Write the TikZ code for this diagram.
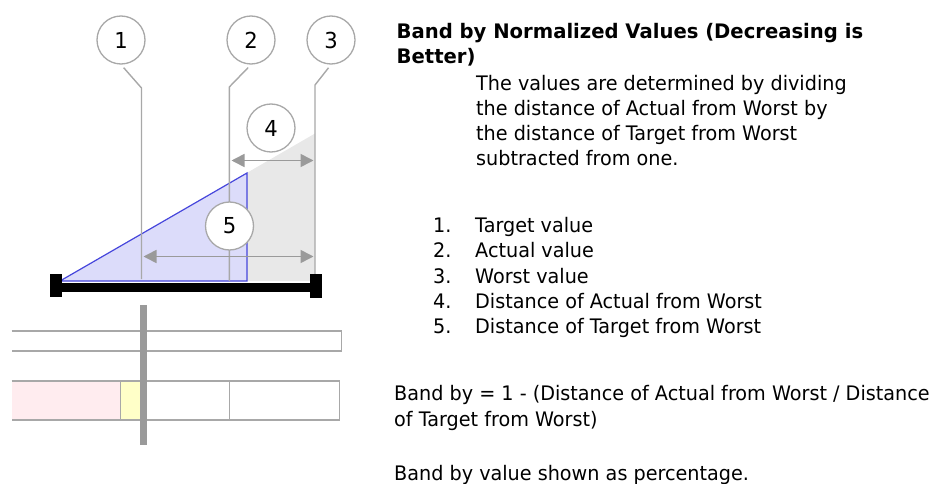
\documentclass[tikz,border=0pt]{standalone}
\usepackage{fontspec}
\setmainfont{DejaVu Sans}[FakeStretch=0.96, BoldFeatures={FakeStretch=0.98}]
\usetikzlibrary{arrows.meta}

\definecolor{linha}{HTML}{A8A8A8}
\definecolor{seta}{HTML}{9A9A9A}
\definecolor{sombra}{HTML}{E8E8E8}
\definecolor{azulclaro}{HTML}{DCDCFA}
\definecolor{azul}{HTML}{4646DC}
\definecolor{rosa}{HTML}{FFECEF}
\definecolor{amarelo}{HTML}{FFFFC8}

\begin{document}
\begin{tikzpicture}[x=1pt, y=-1pt,
    numero/.style={draw=linha, circle, fill=white, line width=1.3pt, minimum size=48pt, inner sep=0pt, font=\fontsize{22}{26}\selectfont},
    guia/.style={draw=linha, line width=1.4pt},
    cota/.style={draw=seta, line width=1.6pt, {Triangle[length=13pt,width=13pt]}-{Triangle[length=13pt,width=13pt]}},
    texto/.style={anchor=base west, inner sep=0pt, align=left}]
    \useasboundingbox (0,0) rectangle (950,484);

    % Regiões sombreadas
    \fill[sombra] (60,281) -- (315,133.5) -- (315,281) -- cycle;
    \filldraw[fill=azulclaro, draw=azul, line width=1.2pt] (60,281) -- (247,173) -- (247,281) -- cycle;

    % Nós para os números
    \node[numero] (n1) at (121,40) {1};
    \node[numero] (n2) at (251,40) {2};
    \node[numero] (n3) at (331,40) {3};
    \node[numero] (n4) at (271,128) {4};

    % Linhas guia
    \coordinate (g1) at (141.5,88);
    \coordinate (f1) at (141.5,279);
    \coordinate (g2) at (229.3,87);
    \coordinate (f2) at (229.3,281);
    \coordinate (g3) at (315,85);
    \coordinate (f3) at (315,281);
    \draw[guia, shorten <=4pt] (n1.south) -- (g1) -- (f1);
    \draw[guia, shorten <=4pt] (n2.south) -- (g2) -- (f2);
    \draw[guia, shorten <=4pt] (n3.south) -- (g3) -- (f3);
    \node[numero] (n5) at (229.5,226) {5};

    % Setas de distância
    \coordinate (d4a) at (231.5,160.5);
    \coordinate (d4b) at (313.5,160.5);
    \coordinate (d5a) at (143.5,256.5);
    \coordinate (d5b) at (313.5,256.5);
    \draw[cota] (d4a) -- (d4b);
    \draw[cota] (d5a) -- (d5b);

    % Barra preta
    \draw[line width=9pt] (56,287) -- (316,287);
    \fill (50,274) rectangle (62,297);
    \fill (310,274) rectangle (322,298);

    % Faixas de baixo
    \draw[guia] (11.7,331) -- (341.5,331) -- (341.5,351) -- (11.7,351);
    \fill[rosa] (11.7,381) rectangle (120.7,420);
    \fill[amarelo] (120.7,381) rectangle (143,420);
    \draw[guia] (11.7,381) -- (339.5,381) -- (339.5,420) -- (11.7,420);
    \draw[guia] (120.7,381) -- (120.7,420);
    \draw[guia] (229.3,381) -- (229.3,420);
    \draw[draw=seta, line width=7pt] (143.5,305) -- (143.5,445);

    % Textos (ancorados na última linha)
    \node[texto, font=\bfseries\fontsize{20}{25}\selectfont] (titulo) at (396.5,63.3)
        {Band by Normalized Values (Decreasing is\\Better)};
    \node[texto, font=\fontsize{20}{25}\selectfont] (descr) at (476,165.7)
        {The values are determined by dividing\\the distance of Actual from Worst by\\the distance of Target from Worst\\subtracted from one.};
    \node[texto, font=\fontsize{20}{25.2}\selectfont] (lista) at (433,333.5)
        {\makebox[42pt][l]{1.}Target value\\\makebox[42pt][l]{2.}Actual value\\\makebox[42pt][l]{3.}Worst value\\\makebox[42pt][l]{4.}Distance of Actual from Worst\\\makebox[42pt][l]{5.}Distance of Target from Worst};
    \node[texto, font=\fontsize{20}{26}\selectfont] (formula) at (394,426.7)
        {Band by = 1 - (Distance of Actual from Worst / Distance\\of Target from Worst)};
    \node[texto, font=\fontsize{20}{26}\selectfont] (nota) at (394,480)
        {Band by value shown as percentage.};
\end{tikzpicture}
\end{document}
